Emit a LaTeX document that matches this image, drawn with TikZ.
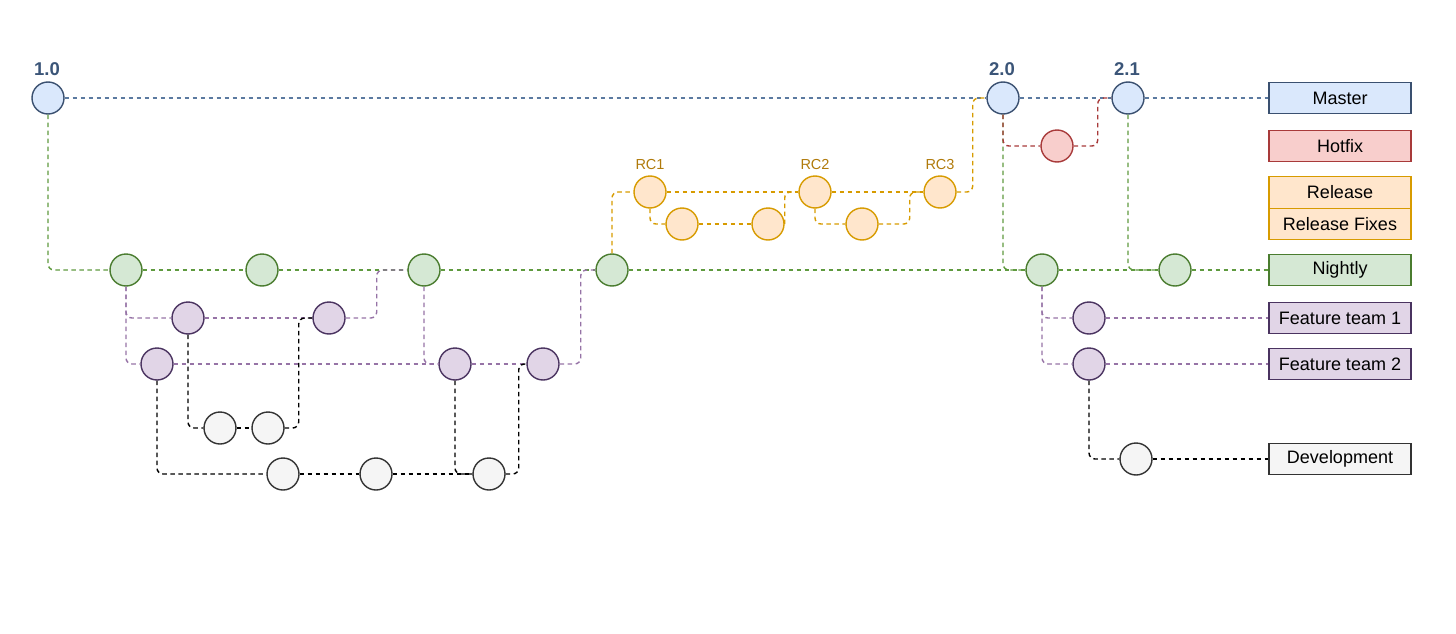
\documentclass[tikz,border=0pt]{standalone}
\usepackage{fontspec}
\setmainfont{Liberation Sans}
\definecolor{blueF}{HTML}{DAE8FC}
\definecolor{blueS}{HTML}{3A5070}
\definecolor{blueL}{HTML}{5B7AA0}
\definecolor{greenF}{HTML}{D5E8D4}
\definecolor{greenS}{HTML}{4A7C2F}
\definecolor{greenL}{HTML}{5F9A3F}
\definecolor{orF}{HTML}{FFE6CC}
\definecolor{orS}{HTML}{D79B00}
\definecolor{redF}{HTML}{F8CECC}
\definecolor{redS}{HTML}{A83A3A}
\definecolor{purF}{HTML}{E1D5E7}
\definecolor{purS}{HTML}{4A3360}
\definecolor{purL}{HTML}{9673A6}
\definecolor{grayF}{HTML}{F5F5F5}
\definecolor{grayS}{HTML}{333333}
\definecolor{tagblue}{HTML}{3B5578}
\definecolor{tagor}{HTML}{B07A0A}
\tikzset{
  commit/.style={circle, minimum size=32pt, inner sep=0pt, line width=1.4pt},
  mc/.style={commit, draw=blueS, fill=blueF},
  hc/.style={commit, draw=redS, fill=redF},
  rcc/.style={commit, draw=orS, fill=orF},
  nc/.style={commit, draw=greenS, fill=greenF},
  fc/.style={commit, draw=purS, fill=purF},
  dc/.style={commit, draw=grayS, fill=grayF},
  legend/.style={rectangle, minimum width=142pt, minimum height=31.5pt, inner sep=0pt, line width=1.4pt, font=\fontsize{18}{21}\selectfont},
  link/.style={dash pattern=on 4.5pt off 3.5pt, line width=1.4pt, rounded corners=6pt},
  bl/.style={link, draw=blueL},
  gl/.style={link, draw=greenL},
  ol/.style={link, draw=orS},
  rl/.style={link, draw=redS},
  pl/.style={link, draw=purL},
  kl/.style={link, draw=black},
  tag/.style={font=\bfseries\fontsize{18.5}{21}\selectfont, text=tagblue},
  rctag/.style={font=\fontsize{14.5}{17}\selectfont, text=tagor}
}
\begin{document}
\begin{tikzpicture}[x=1pt, y=-1pt]
\useasboundingbox (0,0) rectangle (1456,634);
% master
\node[mc] (m10) at (48,98) {};
\node[mc] (m20) at (1003,98) {};
\node[mc] (m21) at (1128,98) {};
\node[tag] (t10) at (47,69) {1.0};
\node[tag] (t20) at (1002,69) {2.0};
\node[tag] (t21) at (1127,69) {2.1};
% hotfix
\node[hc] (hf) at (1057,146) {};
% release
\node[rcc] (rc1) at (650,192) {};
\node[rcc] (rc2) at (815,192) {};
\node[rcc] (rc3) at (940,192) {};
\node[rcc] (rf1) at (682,224) {};
\node[rcc] (rf2) at (768,224) {};
\node[rcc] (rf3) at (862,224) {};
\node[rctag] (trc1) at (650,165) {RC1};
\node[rctag] (trc2) at (815,165) {RC2};
\node[rctag] (trc3) at (940,165) {RC3};
% nightly
\node[nc] (n1) at (126,270) {};
\node[nc] (n2) at (262,270) {};
\node[nc] (n3) at (424,270) {};
\node[nc] (n4) at (612,270) {};
\node[nc] (n5) at (1042,270) {};
\node[nc] (n6) at (1175,270) {};
% features
\node[fc] (fa1) at (188,318) {};
\node[fc] (fa2) at (329,318) {};
\node[fc] (fa3) at (1089,318) {};
\node[fc] (fb1) at (157,364) {};
\node[fc] (fb2) at (455,364) {};
\node[fc] (fb3) at (543,364) {};
\node[fc] (fb4) at (1089,364) {};
% development
\node[dc] (d1) at (220,428) {};
\node[dc] (d2) at (268,428) {};
\node[dc] (d3) at (283,474) {};
\node[dc] (d4) at (376,474) {};
\node[dc] (d5) at (489,474) {};
\node[dc] (d6) at (1136,459) {};
% legend
\node[legend, draw=blueS, fill=blueF] (lmaster) at (1340,98) {Master};
\node[legend, draw=redS, fill=redF] (lhot) at (1340,146) {Hotfix};
\node[legend, draw=orS, fill=orF] (lrel) at (1340,192.5) {Release};
\node[legend, draw=orS, fill=orF] (lrelf) at (1340,224) {Release Fixes};
\node[legend, draw=greenS, fill=greenF] (lnight) at (1340,270) {Nightly};
\node[legend, draw=purS, fill=purF] (lft1) at (1340,318) {Feature team 1};
\node[legend, draw=purS, fill=purF] (lft2) at (1340,364) {Feature team 2};
\node[legend, draw=grayS, fill=grayF] (ldev) at (1340,459) {Development};
% master links
\draw[bl] (m10.east) -- (m20.west);
\draw[bl] (m20.east) -- (m21.west);
\draw[bl] (m21.east) -- (lmaster.west);
% nightly links
\draw[gl] (m10.south) |- (n1.west);
\draw[gl] (n1.east) -- (n2.west);
\draw[gl] (n2.east) -- (n3.west);
\draw[gl] (n3.east) -- (n4.west);
\draw[gl] (n4.east) -- (n5.west);
\draw[gl] (n5.east) -- (n6.west);
\draw[gl] (n6.east) -- (lnight.west);
\draw[gl] (m20.south) |- (n5.west);
\draw[gl] (m21.south) |- (n6.west);
% hotfix links
\draw[rl] (m20.south) |- (hf.west);
\draw[rl] (hf.east) -- ++(24,0) |- (m21.west);
% release links
\draw[ol] (n4.north) |- (rc1.west);
\draw[ol] (rc1.east) -- (rc2.west);
\draw[ol] (rc2.east) -- (rc3.west);
\draw[ol] (rc3.east) -- ++(16,0) |- (m20.west);
\draw[ol] (rc1.south) |- (rf1.west);
\draw[ol] (rf1.east) -- (rf2.west);
\draw[ol] (rf2.east) |- (rc2.west);
\draw[ol] (rc2.south) |- (rf3.west);
\draw[ol] (rf3.east) -- ++(31,0) |- (rc3.west);
% feature links
\draw[pl] (n1.south) |- (fa1.west);
\draw[pl] (n1.south) |- (fb1.west);
\draw[pl] (fa1.east) -- (fa2.west);
\draw[pl] (fa2.east) -- ++(31,0) |- (n3.west);
\draw[pl] (fb1.east) -- (fb2.west);
\draw[pl] (fb2.east) -- (fb3.west);
\draw[pl] (n3.south) |- (fb2.west);
\draw[pl] (fb3.east) -- ++(21,0) |- (n4.west);
\draw[pl] (n5.south) |- (fa3.west);
\draw[pl] (n5.south) |- (fb4.west);
\draw[pl] (fa3.east) -- (lft1.west);
\draw[pl] (fb4.east) -- (lft2.west);
% development links
\draw[kl] (fa1.south) |- (d1.west);
\draw[kl] (d1.east) -- (d2.west);
\draw[kl] (d2.east) -- ++(14,0) |- (fa2.west);
\draw[kl] (fb1.south) |- (d3.west);
\draw[kl] (d3.east) -- (d4.west);
\draw[kl] (d4.east) -- (d5.west);
\draw[kl] (fb2.south) |- (d5.west);
\draw[kl] (d5.east) -- ++(13,0) |- (fb3.west);
\draw[kl] (fb4.south) |- (d6.west);
\draw[kl] (d6.east) -- (ldev.west);
\end{tikzpicture}
\end{document}
